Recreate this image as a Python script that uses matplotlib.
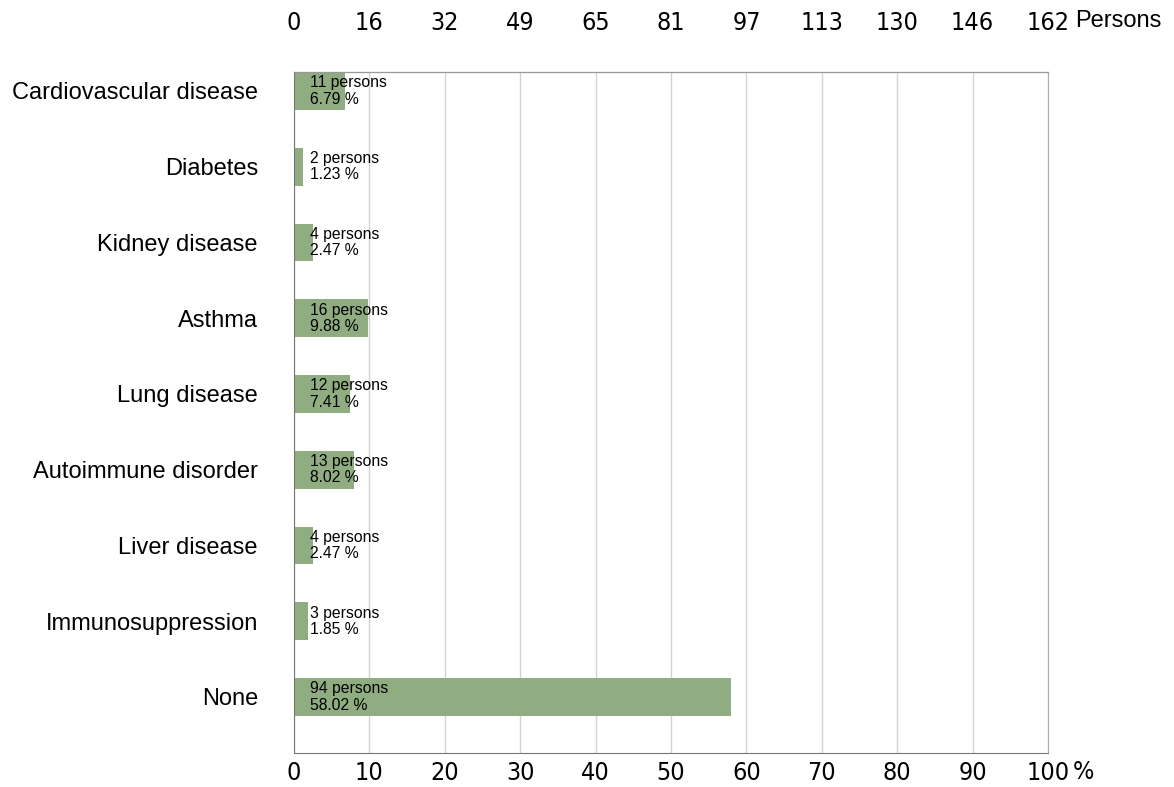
import numpy as np
import matplotlib
matplotlib.use("Agg")
import matplotlib.pyplot as plt

categories = ["Cardiovascular disease", "Diabetes", "Kidney disease", "Asthma",
              "Lung disease", "Autoimmune disorder", "Liver disease",
              "Immunosuppression", "None"]
persons = [11, 2, 4, 16, 12, 13, 4, 3, 94]
percents = [6.79, 1.23, 2.47, 9.88, 7.41, 8.02, 2.47, 1.85, 58.02]
total = 162
pct_ticks = [0, 10, 20, 30, 40, 50, 60, 70, 80, 90, 100]

plt.rcParams['font.family'] = ['Liberation Sans', 'DejaVu Sans']
narrow = dict(family='DejaVu Sans', stretch='condensed', fontsize=18)

fig = plt.figure(figsize=(11.74, 7.87), dpi=100)
ax = fig.add_axes([294/1174, 1-753/787, (1048-294)/1174, (753-72)/787])

y = np.arange(len(categories))
ax.barh(y, percents, height=0.5, color="#8fad80", zorder=2)
for yi, n, p in zip(y, persons, percents):
    ax.text(2.1, yi, f"{n} persons\n{p:.2f} %", fontsize=11.3, va="center",
            ha="left", linespacing=1.1, zorder=3)

ax.set_xlim(0, 100)
ax.set_ylim(8.74, -0.25)
ax.set_yticks(y)
ax.set_yticklabels(categories, fontsize=17)
ax.tick_params(axis='y', length=0, pad=26)

ax.set_xticks(pct_ticks)
ax.set_xticklabels([str(t) for t in pct_ticks], **narrow)
ax.tick_params(axis='x', length=0, pad=6)
ax.text(103.3, -0.028, "%", transform=ax.get_xaxis_transform(), va="center",
        ha="left", **narrow)

ax.grid(axis='x', color="#d3d3d3", linewidth=1, zorder=0)
for s in ["left", "bottom", "top", "right"]:
    ax.spines[s].set_color("#777777")
ax.spines["right"].set_color("#aaaaaa")

top = ax.twiny()
top.set_xlim(0, 100)
top.set_xticks(pct_ticks)
top.set_xticklabels([str(round(total * t / 100)) for t in pct_ticks], **narrow)
top.tick_params(axis='x', length=0, pad=27)
for s in ["left", "bottom", "right"]:
    top.spines[s].set_visible(False)
top.spines["top"].set_color("#999999")
fig.text(1075/1174, 1-21/787, "Persons", fontsize=17, va="center", ha="left")

plt.savefig("out.png", dpi=100)
